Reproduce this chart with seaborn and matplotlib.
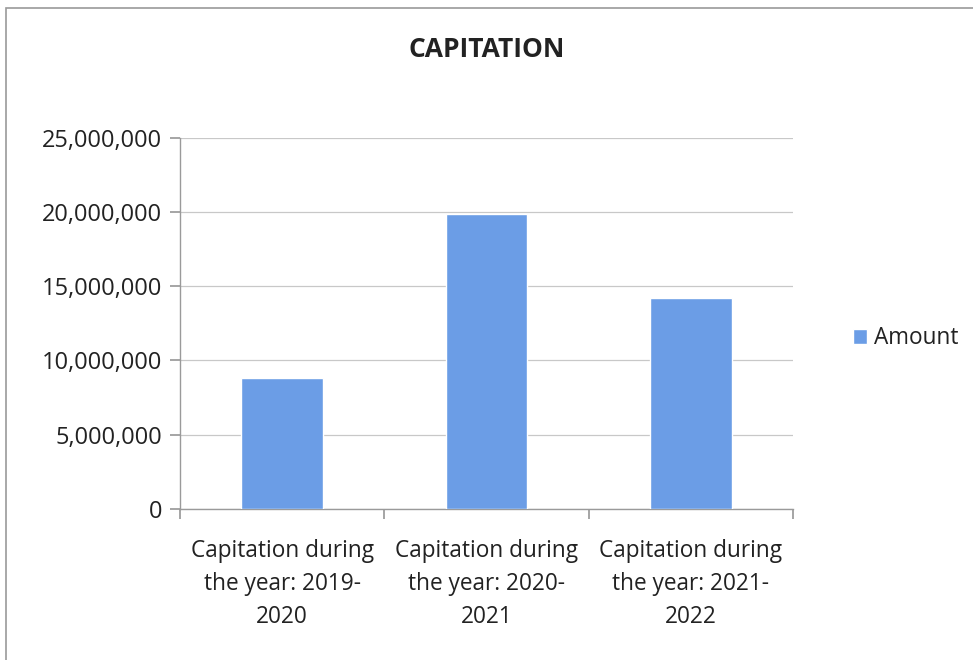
import pandas as pd
import matplotlib.pyplot as plt
import seaborn as sns
from matplotlib.patches import Rectangle
from matplotlib.ticker import FuncFormatter

# values
categories = ["Capitation during\nthe year: 2019-\n2020",
              "Capitation during\nthe year: 2020-\n2021",
              "Capitation during\nthe year: 2021-\n2022"]
amounts = [8830000, 19850000, 14220000]
y_ticks = [0, 5000000, 10000000, 15000000, 20000000, 25000000]

df = pd.DataFrame({"category": categories, "Amount": amounts})

sns.set_theme(style="white")
plt.rcParams['font.family'] = ['Open Sans', 'DejaVu Sans']

fig = plt.figure(figsize=(9.73, 6.6), dpi=100)
ax = fig.add_axes([0.185, 0.229, 0.630, 0.562])

bar_color = "#6b9de6"
sns.barplot(data=df, x="category", y="Amount", color=bar_color, width=0.4,
            saturation=1, ax=ax, label="Amount", zorder=3)

ax.set_ylim(0, 25000000)
ax.set_yticks(y_ticks)
ax.yaxis.set_major_formatter(FuncFormatter(lambda v, p: f"{int(v):,}"))
ax.set_xlim(-0.5, 2.5)
ax.grid(axis="y", color="#c8c8c8", linewidth=0.9, zorder=0)
ax.set_xlabel("")
ax.set_ylabel("")

for s in ["top", "right"]:
    ax.spines[s].set_visible(False)
for s in ["left", "bottom"]:
    ax.spines[s].set_color("#9a9a9a")
    ax.spines[s].set_linewidth(1)

# category boundary ticks on x axis, labels centred under bars
ax.set_xticks([-0.5, 0.5, 1.5, 2.5])
ax.set_xticklabels([])
ax.set_xticks([0, 1, 2], minor=True)
ax.set_xticklabels(categories, minor=True, fontsize=16.3, color="#222222",
                   linespacing=1.5)
ax.tick_params(axis="x", which="major", length=7, color="#9a9a9a", bottom=True)
ax.tick_params(axis="x", which="minor", length=0, pad=22)
ax.tick_params(axis="y", length=7, color="#9a9a9a", left=True,
               labelsize=17, labelcolor="#222222", pad=6)

ax.set_title("CAPITATION", fontsize=19, fontweight="bold", color="#222222", pad=58)

ax.legend(loc="center left", bbox_to_anchor=(1.064, 0.46), frameon=False,
          fontsize=16.3, handlelength=0.65, handleheight=0.65, handletextpad=0.3,
          labelcolor="#222222")

# outer chart frame
fig.patches.append(Rectangle((0.006, -0.02), 1.1, 1.008, transform=fig.transFigure,
                             fill=False, edgecolor="#9a9a9a", linewidth=1.2))

fig.savefig("out.png", dpi=100)
